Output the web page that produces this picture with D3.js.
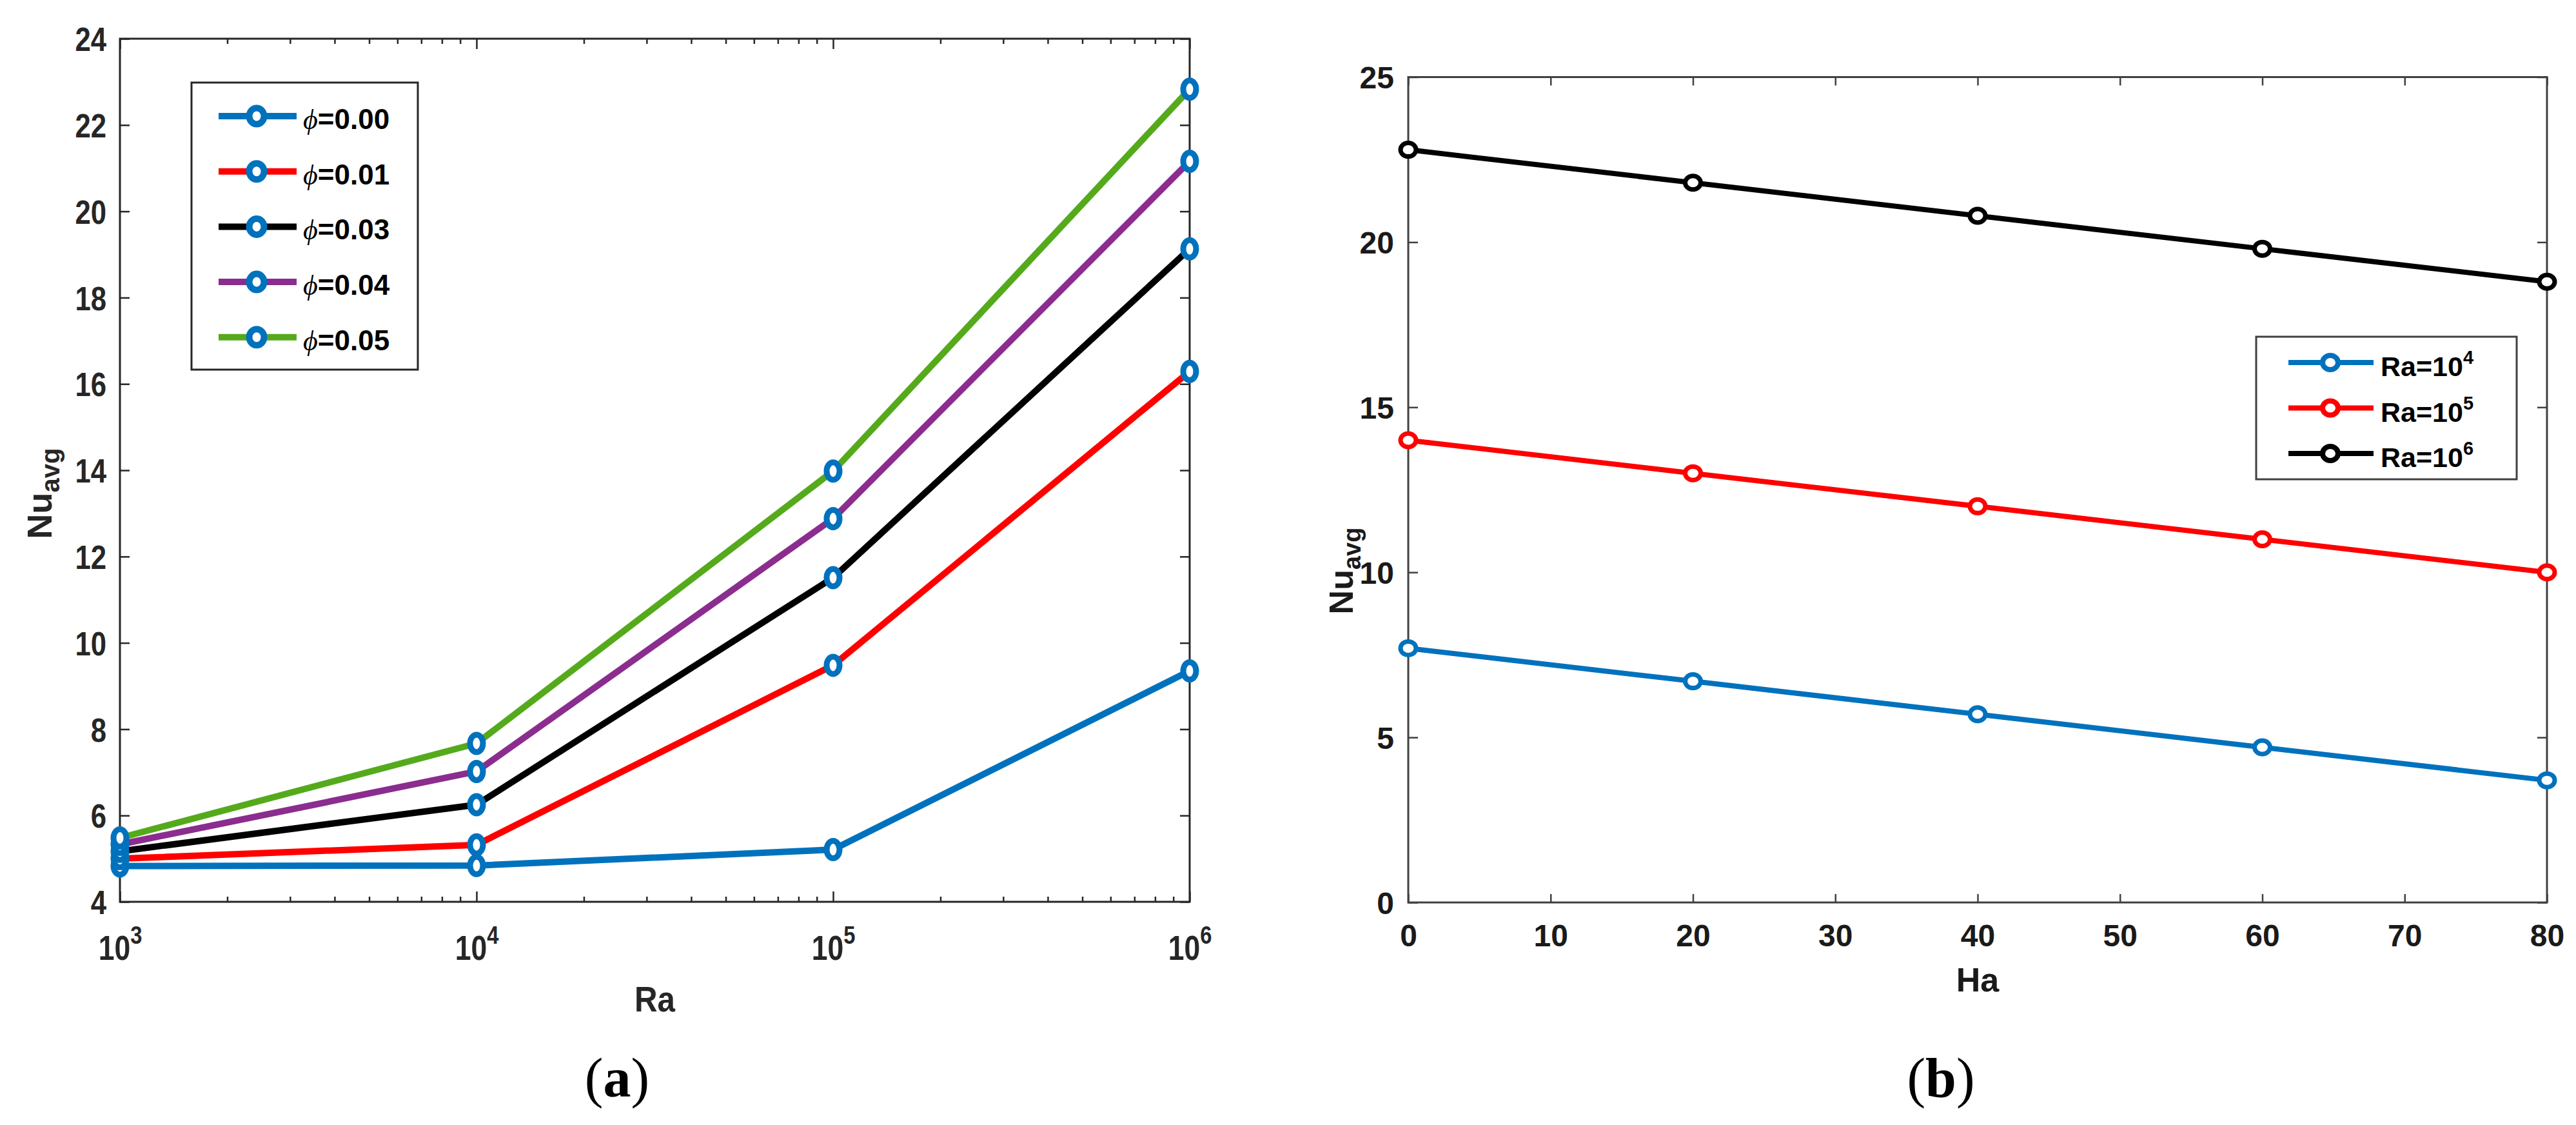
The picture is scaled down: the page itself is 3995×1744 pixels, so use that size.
<!DOCTYPE html>
<html><head><meta charset="utf-8">
<script src="https://cdn.jsdelivr.net/npm/d3@7"></script>
<style>body{margin:0;background:#fff}svg{display:block}</style>
</head><body>
<svg id="chart" width="3995" height="1744"></svg>
<script>
// ---------- DATA ----------
// Panel (a): Nu_avg vs Ra for several phi
const raValues = [1e3, 1e4, 1e5, 1e6];
const phiLabels = ["0.00", "0.01", "0.03", "0.04", "0.05"];
const nuPhi000 = [4.83, 4.84, 5.21, 9.35];
const nuPhi001 = [5.00, 5.32, 9.48, 16.29];
const nuPhi003 = [5.17, 6.25, 11.51, 19.13];
const nuPhi004 = [5.33, 7.02, 12.88, 21.16];
const nuPhi005 = [5.48, 7.67, 13.98, 22.83];
const yTicksA = [4, 6, 8, 10, 12, 14, 16, 18, 20, 22, 24];
const xTicksA = [1e3, 1e4, 1e5, 1e6];

// Panel (b): Nu_avg vs Ha for several Ra
const haValues = [0, 20, 40, 60, 80];
const raExponentsB = ["4", "5", "6"];
const nuRa1e4 = [7.7, 6.7, 5.7, 4.7, 3.7];
const nuRa1e5 = [14.0, 13.0, 12.0, 11.0, 10.0];
const nuRa1e6 = [22.8, 21.8, 20.8, 19.8, 18.8];
const xTicksB = [0, 10, 20, 30, 40, 50, 60, 70, 80];
const yTicksB = [0, 5, 10, 15, 20, 25];

// ---------- SETUP ----------
const SANS = "'Liberation Sans', Arial, Helvetica, sans-serif";
const SERIF = "'Liberation Serif', 'DejaVu Serif', 'Times New Roman', Times, serif";
const svg = d3.select("#chart");
svg.append("rect").attr("width", 3995).attr("height", 1744).attr("fill", "#fff");

function cleanAxis(g, color, w) {
  g.select(".domain").remove();
  g.selectAll(".tick line").attr("stroke", color).attr("stroke-width", w);
}

// ================= PANEL (a) =================
const A = {l: 186, r: 1845, t: 60, b: 1398};
const colA = "#262626";
const sxA = 0.84;
const xA = d3.scaleLog().domain([1e3, 1e6]).range([A.l, A.r]);
const yA = d3.scaleLinear().domain([4, 24]).range([A.b, A.t]);
const gA = svg.append("g");

const minorA = [];
for (let e = 3; e < 6; e++) for (let k = 2; k < 10; k++) minorA.push(k * Math.pow(10, e));

gA.append("g").attr("transform", `translate(0,${A.b})`)
  .call(d3.axisBottom(xA).tickValues(minorA).tickSizeInner(-8).tickSizeOuter(0).tickFormat(() => ""))
  .call(g => cleanAxis(g, colA, 2.5));
gA.append("g").attr("transform", `translate(0,${A.t})`)
  .call(d3.axisTop(xA).tickValues(minorA).tickSizeInner(-8).tickSizeOuter(0).tickFormat(() => ""))
  .call(g => cleanAxis(g, colA, 2.5));
gA.append("g").attr("transform", `translate(0,${A.t})`)
  .call(d3.axisTop(xA).tickValues(xTicksA).tickSizeInner(-16).tickSizeOuter(0).tickFormat(() => ""))
  .call(g => cleanAxis(g, colA, 2.5));
gA.append("g").attr("transform", `translate(${A.r},0)`)
  .call(d3.axisRight(yA).tickValues(yTicksA).tickSizeInner(-15).tickSizeOuter(0).tickFormat(() => ""))
  .call(g => cleanAxis(g, colA, 2.5));

const bottomA = gA.append("g").attr("transform", `translate(0,${A.b})`)
  .call(d3.axisBottom(xA).tickValues(xTicksA).tickSizeInner(-16).tickSizeOuter(0)
    .tickFormat(d => String(Math.round(Math.log10(d)))))
  .call(g => cleanAxis(g, colA, 2.5));
bottomA.selectAll(".tick text").each(function () {
  const exp = d3.select(this).text();
  const t = d3.select(this).text(null).attr("y", 90).attr("dy", null)
    .attr("font-family", SANS).attr("font-weight", "bold").attr("font-size", 53)
    .attr("fill", colA).attr("transform", `scale(${sxA},1)`);
  t.append("tspan").text("10");
  t.append("tspan").attr("font-size", 39).attr("dy", -25).text(exp);
});

const leftA = gA.append("g").attr("transform", `translate(${A.l},0)`)
  .call(d3.axisLeft(yA).tickValues(yTicksA).tickSizeInner(-15).tickSizeOuter(0).tickPadding(21))
  .call(g => cleanAxis(g, colA, 2.5));
leftA.selectAll(".tick text").attr("x", -21 / sxA).attr("dy", "0.36em")
  .attr("transform", `scale(${sxA},1)`).attr("font-family", SANS).attr("font-weight", "bold")
  .attr("font-size", 52).attr("fill", colA);

gA.append("rect").attr("x", A.l).attr("y", A.t).attr("width", A.r - A.l).attr("height", A.b - A.t)
  .attr("fill", "none").attr("stroke", colA).attr("stroke-width", 3);

const seriesA = [
  {label: phiLabels[0], vals: nuPhi000, color: "#0072BD"},
  {label: phiLabels[1], vals: nuPhi001, color: "#FF0000"},
  {label: phiLabels[2], vals: nuPhi003, color: "#000000"},
  {label: phiLabels[3], vals: nuPhi004, color: "#8B2D8E"},
  {label: phiLabels[4], vals: nuPhi005, color: "#55AA1C"}
];
const markerColA = "#0072BD";
const lineA = d3.line().x(d => xA(d[0])).y(d => yA(d[1]));
seriesA.forEach(s => {
  const pts = raValues.map((r, i) => [r, s.vals[i]]);
  gA.append("path").attr("d", lineA(pts)).attr("fill", "none").attr("stroke", s.color)
    .attr("stroke-width", 10).attr("stroke-linejoin", "round");
  gA.selectAll(null).data(pts).enter().append("ellipse")
    .attr("cx", d => xA(d[0])).attr("cy", d => yA(d[1])).attr("rx", 10).attr("ry", 13.5)
    .attr("fill", "#fff").attr("stroke", markerColA).attr("stroke-width", 9);
});

// legend (a)
const legA = gA.append("g");
legA.append("rect").attr("x", 297).attr("y", 128).attr("width", 351).attr("height", 445)
  .attr("fill", "#fff").attr("stroke", colA).attr("stroke-width", 3);
seriesA.forEach((s, i) => {
  const y = 180 + i * 85.7;
  legA.append("line").attr("x1", 339).attr("x2", 460).attr("y1", y).attr("y2", y)
    .attr("stroke", s.color).attr("stroke-width", 10);
  legA.append("ellipse").attr("cx", 398).attr("cy", y).attr("rx", 11.5).attr("ry", 12.5)
    .attr("fill", "#fff").attr("stroke", markerColA).attr("stroke-width", 10);
  const t = legA.append("text").attr("x", 470).attr("y", y + 20).attr("fill", "#000")
    .attr("font-size", 44);
  t.append("tspan").attr("font-family", SERIF).attr("font-style", "italic").text("\u03D5");
  t.append("tspan").attr("font-family", SANS).attr("font-weight", "bold").text("=" + s.label);
});

// axis titles (a)
svg.append("text").attr("transform", `translate(${(A.l + A.r) / 2},1568) scale(0.88,1)`)
  .attr("text-anchor", "middle").attr("font-family", SANS).attr("font-weight", "bold")
  .attr("font-size", 56).attr("fill", colA).text("Ra");
{
  const t = svg.append("text").attr("transform", `translate(80,765) rotate(-90)`)
    .attr("text-anchor", "middle").attr("font-family", SANS).attr("font-weight", "bold")
    .attr("font-size", 54).attr("fill", colA);
  t.append("tspan").text("Nu");
  t.append("tspan").attr("font-size", 40).attr("dy", 12).text("avg");
}

// ================= PANEL (b) =================
const B = {l: 2184, r: 3950, t: 119.5, b: 1399};
const colB = "#404040";
const xB = d3.scaleLinear().domain([0, 80]).range([B.l, B.r]);
const yB = d3.scaleLinear().domain([0, 25]).range([B.b, B.t]);
const gB = svg.append("g");

gB.append("g").attr("transform", `translate(0,${B.t})`)
  .call(d3.axisTop(xB).tickValues(xTicksB).tickSizeInner(-13).tickSizeOuter(0).tickFormat(() => ""))
  .call(g => cleanAxis(g, colB, 2.5));
gB.append("g").attr("transform", `translate(${B.r},0)`)
  .call(d3.axisRight(yB).tickValues(yTicksB).tickSizeInner(-15).tickSizeOuter(0).tickFormat(() => ""))
  .call(g => cleanAxis(g, colB, 2.5));
const bottomB = gB.append("g").attr("transform", `translate(0,${B.b})`)
  .call(d3.axisBottom(xB).tickValues(xTicksB).tickSizeInner(-13).tickSizeOuter(0))
  .call(g => cleanAxis(g, colB, 2.5));
bottomB.selectAll(".tick text").attr("y", 68).attr("dy", null).attr("font-family", SANS)
  .attr("font-weight", "bold").attr("font-size", 48).attr("fill", "#1a1a1a");
const leftB = gB.append("g").attr("transform", `translate(${B.l},0)`)
  .call(d3.axisLeft(yB).tickValues(yTicksB).tickSizeInner(-15).tickSizeOuter(0).tickPadding(22))
  .call(g => cleanAxis(g, colB, 2.5));
leftB.selectAll(".tick text").attr("dy", "0.36em").attr("font-family", SANS)
  .attr("font-weight", "bold").attr("font-size", 48).attr("fill", "#1a1a1a");

gB.append("rect").attr("x", B.l).attr("y", B.t).attr("width", B.r - B.l).attr("height", B.b - B.t)
  .attr("fill", "none").attr("stroke", colB).attr("stroke-width", 3);

const seriesB = [
  {exp: raExponentsB[0], vals: nuRa1e4, color: "#0072BD"},
  {exp: raExponentsB[1], vals: nuRa1e5, color: "#FF0000"},
  {exp: raExponentsB[2], vals: nuRa1e6, color: "#000000"}
];
const lineB = d3.line().x(d => xB(d[0])).y(d => yB(d[1]));
seriesB.forEach(s => {
  const pts = haValues.map((h, i) => [h, s.vals[i]]);
  gB.append("path").attr("d", lineB(pts)).attr("fill", "none").attr("stroke", s.color)
    .attr("stroke-width", 8).attr("stroke-linejoin", "round");
  gB.selectAll(null).data(pts).enter().append("ellipse")
    .attr("cx", d => xB(d[0])).attr("cy", d => yB(d[1])).attr("rx", 12).attr("ry", 10.5)
    .attr("fill", "#fff").attr("stroke", s.color).attr("stroke-width", 7);
});

// legend (b)
const legB = gB.append("g");
legB.append("rect").attr("x", 3499).attr("y", 522).attr("width", 404).attr("height", 221)
  .attr("fill", "#fff").attr("stroke", colB).attr("stroke-width", 3);
seriesB.forEach((s, i) => {
  const y = 562 + i * 70.5;
  legB.append("line").attr("x1", 3549).attr("x2", 3681).attr("y1", y).attr("y2", y)
    .attr("stroke", s.color).attr("stroke-width", 8);
  legB.append("ellipse").attr("cx", 3614).attr("cy", y).attr("rx", 12).attr("ry", 11)
    .attr("fill", "#fff").attr("stroke", s.color).attr("stroke-width", 8);
  const t = legB.append("text").attr("x", 3692).attr("y", y + 21).attr("fill", "#000")
    .attr("font-family", SANS).attr("font-weight", "bold").attr("font-size", 43);
  t.append("tspan").text("Ra=10");
  t.append("tspan").attr("font-size", 29).attr("dy", -19).text(s.exp);
});

// axis titles (b)
svg.append("text").attr("x", (B.l + B.r) / 2).attr("y", 1537).attr("text-anchor", "middle")
  .attr("font-family", SANS).attr("font-weight", "bold").attr("font-size", 52)
  .attr("fill", "#1a1a1a").text("Ha");
{
  const t = svg.append("text").attr("transform", `translate(2098,885) rotate(-90)`)
    .attr("text-anchor", "middle").attr("font-family", SANS).attr("font-weight", "bold")
    .attr("font-size", 52).attr("fill", "#1a1a1a");
  t.append("tspan").text("Nu");
  t.append("tspan").attr("font-size", 38).attr("dy", 12).text("avg");
}

// ================= CAPTIONS =================
[{x: 957, l: "a"}, {x: 3010, l: "b"}].forEach(c => {
  const t = svg.append("text").attr("x", c.x).attr("y", 1700).attr("text-anchor", "middle")
    .attr("font-family", SERIF).attr("font-size", 86).attr("fill", "#000");
  t.append("tspan").text("(");
  t.append("tspan").attr("font-weight", "bold").text(c.l);
  t.append("tspan").text(")");
});
</script>
</body></html>
